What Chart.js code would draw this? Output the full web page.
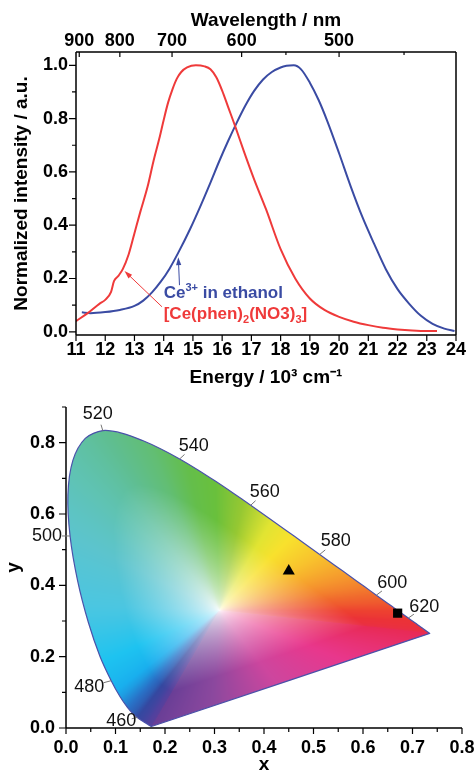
<!DOCTYPE html>
<html>
<head>
<meta charset="utf-8">
<script src="https://cdn.jsdelivr.net/npm/chart.js@4.4.1/dist/chart.umd.min.js"></script>
<style>
  html, body { margin: 0; padding: 0; background: #fff; overflow: hidden; }
  canvas { display: block; }
</style>
</head>
<body>
<canvas id="spectra" width="476" height="392"></canvas>
<canvas id="cie" width="476" height="380"></canvas>
<script>
// ---------- top panel: emission spectra ----------
const redEnergy = [11.0, 11.4, 11.8, 12.0, 12.2, 12.3, 12.45, 12.6, 12.8, 13.0, 13.2, 13.45, 13.65, 13.85, 14.0, 14.15, 14.3, 14.45, 14.6, 14.8, 15.1, 15.4, 15.6, 15.8, 16.0, 16.2, 16.45, 16.75, 17.1, 17.5, 18.0, 18.5, 19.0, 19.5, 20.0, 20.5, 21.0, 21.5, 22.0, 22.5, 23.0, 23.35];
const redIntensity = [0.04, 0.07, 0.105, 0.12, 0.15, 0.19, 0.21, 0.235, 0.29, 0.37, 0.45, 0.545, 0.64, 0.725, 0.795, 0.86, 0.91, 0.95, 0.975, 0.992, 1.0, 0.996, 0.985, 0.955, 0.905, 0.845, 0.77, 0.675, 0.57, 0.46, 0.31, 0.2, 0.125, 0.082, 0.056, 0.038, 0.025, 0.015, 0.009, 0.005, 0.003, 0.003];
const blueEnergy = [11.2, 11.5, 12.0, 12.5, 13.0, 13.3, 13.6, 13.9, 14.2, 14.5, 14.9, 15.25, 15.6, 15.9, 16.2, 16.5, 16.8, 17.1, 17.4, 17.7, 18.0, 18.2, 18.45, 18.7, 19.0, 19.3, 19.6, 20.0, 20.4, 20.8, 21.2, 21.6, 22.0, 22.4, 22.8, 23.2, 23.6, 23.95];
const blueIntensity = [0.073, 0.07, 0.074, 0.082, 0.097, 0.117, 0.148, 0.188, 0.237, 0.297, 0.385, 0.47, 0.56, 0.64, 0.715, 0.785, 0.85, 0.905, 0.947, 0.975, 0.992, 0.998, 1.0, 0.985, 0.935, 0.87, 0.79, 0.67, 0.545, 0.43, 0.33, 0.235, 0.16, 0.105, 0.06, 0.03, 0.012, 0.003];
const energyTicks = [11, 12, 13, 14, 15, 16, 17, 18, 19, 20, 21, 22, 23, 24];
const intensityTicks = [0, 0.2, 0.4, 0.6, 0.8, 1.0];
const intensityMinor = [0.1, 0.3, 0.5, 0.7, 0.9];
const wavelengthTicks = [900, 800, 700, 600, 500];
const wavelengthMinor = [550, 450];

// ---------- bottom panel: CIE 1931 chromaticity ----------
const locusNm = [380, 385, 390, 395, 400, 405, 410, 415, 420, 425, 430, 435, 440, 445, 450, 455, 460, 465, 470, 475, 480, 485, 490, 495, 500, 505, 510, 515, 520, 525, 530, 535, 540, 545, 550, 555, 560, 565, 570, 575, 580, 585, 590, 595, 600, 605, 610, 615, 620, 625, 630, 635, 640, 645, 650, 660, 670, 680, 700];
const locusX = [0.1741, 0.1740, 0.1738, 0.1736, 0.1733, 0.1730, 0.1726, 0.1721, 0.1714, 0.1703, 0.1689, 0.1669, 0.1644, 0.1611, 0.1566, 0.1510, 0.1440, 0.1355, 0.1241, 0.1096, 0.0913, 0.0687, 0.0454, 0.0235, 0.0082, 0.0039, 0.0139, 0.0389, 0.0743, 0.1142, 0.1547, 0.1929, 0.2296, 0.2658, 0.3016, 0.3373, 0.3731, 0.4087, 0.4441, 0.4788, 0.5125, 0.5448, 0.5752, 0.6029, 0.6270, 0.6482, 0.6658, 0.6801, 0.6915, 0.7006, 0.7079, 0.7140, 0.7190, 0.7230, 0.7260, 0.7300, 0.7320, 0.7334, 0.7347];
const locusY = [0.0050, 0.0050, 0.0049, 0.0049, 0.0048, 0.0048, 0.0048, 0.0048, 0.0051, 0.0058, 0.0069, 0.0086, 0.0109, 0.0138, 0.0177, 0.0227, 0.0297, 0.0399, 0.0578, 0.0868, 0.1327, 0.2007, 0.2950, 0.4127, 0.5384, 0.6548, 0.7502, 0.8120, 0.8338, 0.8262, 0.8059, 0.7816, 0.7543, 0.7243, 0.6923, 0.6589, 0.6245, 0.5896, 0.5547, 0.5202, 0.4866, 0.4544, 0.4242, 0.3965, 0.3725, 0.3514, 0.3340, 0.3197, 0.3083, 0.2993, 0.2920, 0.2859, 0.2809, 0.2770, 0.2740, 0.2700, 0.2680, 0.2666, 0.2653];
const labelNm = [460, 480, 500, 520, 540, 560, 580, 600, 620];
const sampleTriangle = [0.45, 0.44];
const sampleSquare = [0.67, 0.322];
const cieXTicks = [0, 0.1, 0.2, 0.3, 0.4, 0.5, 0.6, 0.7, 0.8];
const cieXMinor = [0.05, 0.15, 0.25, 0.35, 0.45, 0.55, 0.65, 0.75];
const cieYTicks = [0, 0.2, 0.4, 0.6, 0.8];
const cieYMinor = [0.1, 0.3, 0.5, 0.7, 0.9];

// ---------- styles ----------
const FONT = '"Liberation Sans", Arial, Helvetica, sans-serif';
const RED = '#ef3a3a';
const BLUE = '#3a4ba3';
const whitePoint = [0.31, 0.33];
// label offsets (px) from the locus point
const labelOffsets = { 460: [-16, 4], 480: [-22, 6], 500: [-23, 0], 520: [-5, -17], 540: [14, -13], 560: [14, -13], 580: [16, -13], 600: [16, -12], 620: [16, -11] };
// rim colours along the locus (nm, r, g, b) and along the purple line (0 = red end)
const edgeColours = [
  [380, 105, 62, 150], [440, 80, 65, 158], [460, 52, 72, 160], [470, 40, 115, 200],
  [477, 25, 175, 238], [484, 30, 195, 240], [492, 75, 198, 225], [500, 92, 196, 205],
  [508, 95, 195, 180], [520, 95, 190, 145], [532, 98, 190, 115], [542, 100, 190, 75],
  [550, 105, 192, 60], [558, 150, 200, 50], [566, 225, 228, 50], [572, 248, 225, 45],
  [580, 248, 195, 45], [590, 245, 150, 45], [600, 240, 105, 45], [612, 237, 65, 48],
  [625, 235, 50, 55], [700, 232, 42, 85]
];
const purpleColours = [[0, 232, 42, 85], [0.3, 232, 55, 140], [0.55, 205, 70, 158], [0.78, 140, 72, 158], [1, 105, 62, 150]];

function lerpTable(table, v) {
  if (v <= table[0][0]) return table[0].slice(1);
  for (let i = 1; i < table.length; i++) {
    if (v <= table[i][0]) {
      const a = table[i - 1], b = table[i];
      const f = (v - a[0]) / (b[0] - a[0]);
      return [1, 2, 3].map(k => a[k] + (b[k] - a[k]) * f);
    }
  }
  return table[table.length - 1].slice(1);
}

// axis lines + major/minor tick marks
function axisDecor(spec) {
  return {
    id: 'axisDecor',
    afterDraw(chart) {
      const { ctx, chartArea: a } = chart;
      ctx.save();
      ctx.strokeStyle = '#000';
      ctx.lineWidth = 1.5;
      ctx.beginPath();
      spec.sides.forEach(side => {
        if (side === 'left') { ctx.moveTo(a.left, a.bottom); ctx.lineTo(a.left, a.top); }
        if (side === 'right') { ctx.moveTo(a.right, a.bottom); ctx.lineTo(a.right, a.top); }
        if (side === 'top') { ctx.moveTo(a.left, a.top); ctx.lineTo(a.right, a.top); }
        if (side === 'bottom') { ctx.moveTo(a.left, a.bottom); ctx.lineTo(a.right, a.bottom); }
      });
      ctx.stroke();
      ctx.lineWidth = 1.2;
      ctx.beginPath();
      spec.ticks.forEach(t => {
        const s = chart.scales[t.scale];
        const out = (t.side === 'top' || t.side === 'left') ? -1 : 1;
        const dir = t.inward ? -out : out;
        const base = a[t.side];
        const mark = (v, len) => {
          const p = s.getPixelForValue(v);
          if (t.side === 'top' || t.side === 'bottom') { ctx.moveTo(p, base); ctx.lineTo(p, base + dir * len); }
          else { ctx.moveTo(base, p); ctx.lineTo(base + dir * len, p); }
        };
        t.major.forEach(v => mark(v, t.len[0]));
        t.minor.forEach(v => mark(v, t.len[1]));
      });
      ctx.stroke();
      ctx.restore();
    }
  };
}

function drawRich(ctx, parts, x, y, size, colour) {
  let cx = x;
  ctx.fillStyle = colour;
  ctx.textAlign = 'left';
  ctx.textBaseline = 'alphabetic';
  parts.forEach(([txt, kind]) => {
    const fs = kind ? Math.round(size * 0.65) : size;
    ctx.font = `bold ${fs}px ${FONT}`;
    const dy = kind === 'sup' ? -size * 0.42 : kind === 'sub' ? size * 0.25 : 0;
    ctx.fillText(txt, cx, y + dy);
    cx += ctx.measureText(txt).width;
  });
}

function arrow(ctx, x1, y1, x2, y2, colour) {
  const ang = Math.atan2(y2 - y1, x2 - x1);
  ctx.strokeStyle = colour;
  ctx.fillStyle = colour;
  ctx.lineWidth = 1;
  ctx.beginPath();
  ctx.moveTo(x1, y1);
  ctx.lineTo(x2 - 5 * Math.cos(ang), y2 - 5 * Math.sin(ang));
  ctx.stroke();
  ctx.beginPath();
  ctx.moveTo(x2, y2);
  ctx.lineTo(x2 - 8 * Math.cos(ang) + 2.6 * Math.sin(ang), y2 - 8 * Math.sin(ang) - 2.6 * Math.cos(ang));
  ctx.lineTo(x2 - 8 * Math.cos(ang) - 2.6 * Math.sin(ang), y2 - 8 * Math.sin(ang) + 2.6 * Math.cos(ang));
  ctx.closePath();
  ctx.fill();
}

// annotation anchors in data units: text baseline start, arrow tail, arrow tip
const spectraNotes = [
  { parts: [['Ce'], ['3+', 'sup'], [' in ethanol']], colour: BLUE, at: [14.0, 0.126], from: [14.54, 0.175], to: [14.5, 0.28] },
  { parts: [['[Ce(phen)'], ['2', 'sub'], ['(NO3)'], ['3', 'sub'], [']']], colour: RED, at: [14.0, 0.048], from: [13.94, 0.094], to: [12.66, 0.228] }
];

const spectraNotesPlugin = {
  id: 'spectraNotes',
  afterDatasetsDraw(chart) {
    const { ctx, scales: { x, y } } = chart;
    ctx.save();
    spectraNotes.forEach(n => {
      arrow(ctx, x.getPixelForValue(n.from[0]), y.getPixelForValue(n.from[1]),
        x.getPixelForValue(n.to[0]), y.getPixelForValue(n.to[1]), n.colour);
      drawRich(ctx, n.parts, x.getPixelForValue(n.at[0]), y.getPixelForValue(n.at[1]), 17, n.colour);
    });
    ctx.restore();
  }
};

const tickFont = { family: FONT, size: 18, weight: 'bold' };
const titleFont = { family: FONT, size: 19, weight: 'bold' };

new Chart(document.getElementById('spectra'), {
  type: 'scatter',
  data: {
    datasets: [
      {
        label: '[Ce(phen)2(NO3)3]',
        data: redEnergy.map((e, i) => ({ x: e, y: redIntensity[i] })),
        borderColor: RED, borderWidth: 2, showLine: true, pointRadius: 0,
        cubicInterpolationMode: 'monotone'
      },
      {
        label: 'Ce3+ in ethanol',
        data: blueEnergy.map((e, i) => ({ x: e, y: blueIntensity[i] })),
        borderColor: BLUE, borderWidth: 2, showLine: true, pointRadius: 0,
        cubicInterpolationMode: 'monotone'
      }
    ]
  },
  options: {
    responsive: false,
    animation: false,
    events: [],
    layout: { padding: { left: 0, right: 20, top: 0, bottom: 0 } },
    plugins: { legend: { display: false }, tooltip: { enabled: false } },
    scales: {
      x: {
        type: 'linear', position: 'bottom', min: 11, max: 24,
        afterBuildTicks: s => { s.ticks = energyTicks.map(v => ({ value: v })); },
        afterFit: s => { s.height = 57; s.paddingLeft = 0; s.paddingRight = 0; },
        grid: { display: false, drawTicks: false }, border: { display: false },
        ticks: { color: '#000', font: tickFont, padding: 4, autoSkip: false, maxRotation: 0 },
        title: { display: true, text: 'Energy / 10³ cm⁻¹', color: '#000', font: titleFont, padding: { top: 0, bottom: 3 } }
      },
      x2: {
        type: 'linear', position: 'top', min: 11, max: 24,
        afterBuildTicks: s => { s.ticks = wavelengthTicks.map(w => ({ value: 1e4 / w })); },
        afterFit: s => { s.height = 52; s.paddingLeft = 0; s.paddingRight = 0; },
        grid: { display: false, drawTicks: false }, border: { display: false },
        ticks: { color: '#000', font: tickFont, padding: 0, autoSkip: false, maxRotation: 0, callback: v => String(Math.round(1e4 / v)) },
        title: { display: true, text: 'Wavelength / nm', color: '#000', font: titleFont, padding: { top: 9, bottom: 0 } }
      },
      y: {
        type: 'linear', min: -0.012, max: 1.05,
        afterBuildTicks: s => { s.ticks = intensityTicks.map(v => ({ value: v })); },
        afterFit: s => { s.width = 76; s.paddingTop = 0; s.paddingBottom = 0; },
        grid: { display: false, drawTicks: false }, border: { display: false },
        ticks: { color: '#000', font: tickFont, padding: 8, callback: v => v.toFixed(1) },
        title: { display: true, text: 'Normalized intensity / a.u.', color: '#000', font: titleFont, padding: { top: 10, bottom: 0 } }
      }
    }
  },
  plugins: [
    axisDecor({
      sides: ['left', 'right', 'top', 'bottom'],
      ticks: [
        { scale: 'x', side: 'bottom', inward: false, major: energyTicks, minor: [], len: [6, 3] },
        { scale: 'x2', side: 'top', inward: true, major: wavelengthTicks.map(w => 1e4 / w), minor: wavelengthMinor.map(w => 1e4 / w), len: [5, 3] },
        { scale: 'y', side: 'left', inward: false, major: intensityTicks, minor: intensityMinor, len: [7, 4] }
      ]
    }),
    spectraNotesPlugin
  ]
});

// ---------- CIE colour fill, computed per pixel through the chart scales ----------
let ciePattern = null;
function cieFill(context) {
  const chart = context.chart;
  const area = chart.chartArea;
  const sx = chart.scales.x, sy = chart.scales.y;
  if (!area || !sx || !sy || area.right - area.left < 10) return 'rgba(0,0,0,0)';
  if (ciePattern) return ciePattern;
  const pts = locusX.map((x, i) => ({ x: sx.getPixelForValue(x), y: sy.getPixelForValue(locusY[i]), nm: locusNm[i] }));
  const wp = { x: sx.getPixelForValue(whitePoint[0]), y: sy.getPixelForValue(whitePoint[1]) };
  const BINS = 2880;
  const radius = new Float32Array(BINS);
  const rim = [];
  const n = pts.length;
  for (let b = 0; b < BINS; b++) {
    const th = (b + 0.5) / BINS * 2 * Math.PI - Math.PI;
    const dx = Math.cos(th), dy = Math.sin(th);
    let best = Infinity, col = [255, 255, 255];
    for (let i = 0; i < n; i++) {
      const a = pts[i], c = pts[(i + 1) % n];
      const ex = c.x - a.x, ey = c.y - a.y;
      const den = dx * ey - dy * ex;
      if (Math.abs(den) < 1e-9) continue;
      const ax = a.x - wp.x, ay = a.y - wp.y;
      const t = (ax * ey - ay * ex) / den;
      const u = (ax * dy - ay * dx) / den;
      if (t > 0 && u >= 0 && u <= 1 && t < best) {
        best = t;
        col = i === n - 1 ? lerpTable(purpleColours, u) : lerpTable(edgeColours, a.nm + u * (c.nm - a.nm));
      }
    }
    radius[b] = best;
    rim[b] = col;
  }
  const off = document.createElement('canvas');
  off.width = chart.width;
  off.height = chart.height;
  const octx = off.getContext('2d');
  const L = Math.floor(area.left), T = Math.floor(area.top);
  const W = Math.ceil(area.right) - L, H = Math.ceil(area.bottom) - T;
  const img = octx.createImageData(W, H);
  for (let j = 0; j < H; j++) {
    for (let i = 0; i < W; i++) {
      const dx = L + i + 0.5 - wp.x, dy = T + j + 0.5 - wp.y;
      let b = Math.floor((Math.atan2(dy, dx) + Math.PI) / (2 * Math.PI) * BINS);
      if (b >= BINS) b = BINS - 1;
      const k = Math.hypot(dx, dy) / radius[b];
      const t = Math.pow(Math.min(1, k / 0.7), 0.6);
      const c = rim[b];
      const o = (j * W + i) * 4;
      img.data[o] = 255 + (c[0] - 255) * t;
      img.data[o + 1] = 255 + (c[1] - 255) * t;
      img.data[o + 2] = 255 + (c[2] - 255) * t;
      img.data[o + 3] = 255;
    }
  }
  octx.putImageData(img, L, T);
  ciePattern = chart.ctx.createPattern(off, 'no-repeat');
  return ciePattern;
}

const locusLabels = {
  id: 'locusLabels',
  afterDraw(chart) {
    const { ctx, scales: { x, y } } = chart;
    ctx.save();
    ctx.font = `18px ${FONT}`;
    ctx.textAlign = 'center';
    ctx.textBaseline = 'middle';
    labelNm.forEach(nm => {
      const i = locusNm.indexOf(nm);
      const px = x.getPixelForValue(locusX[i]), py = y.getPixelForValue(locusY[i]);
      const [ox, oy] = labelOffsets[nm];
      ctx.strokeStyle = '#777';
      ctx.lineWidth = 1;
      ctx.beginPath();
      ctx.moveTo(px, py);
      ctx.lineTo(px + ox * 0.35, py + oy * 0.35);
      ctx.stroke();
      ctx.fillStyle = '#111';
      ctx.fillText(String(nm), px + ox, py + oy);
    });
    ctx.restore();
  }
};

const locusPoints = locusX.map((x, i) => ({ x, y: locusY[i] }));
locusPoints.push({ x: locusX[0], y: locusY[0] });

new Chart(document.getElementById('cie'), {
  type: 'scatter',
  data: {
    datasets: [
      {
        label: 'sample (triangle)',
        data: [{ x: sampleTriangle[0], y: sampleTriangle[1] }],
        pointStyle: 'triangle', pointRadius: 7, backgroundColor: '#000', borderColor: '#000', borderWidth: 0, order: 0
      },
      {
        label: 'sample (square)',
        data: [{ x: sampleSquare[0], y: sampleSquare[1] }],
        pointStyle: 'rect', pointRadius: 6.5, backgroundColor: '#000', borderColor: '#000', borderWidth: 0, order: 0
      },
      {
        label: 'CIE 1931 spectral locus',
        data: locusPoints,
        showLine: true, fill: 'shape', backgroundColor: cieFill,
        borderColor: '#4a52aa', borderWidth: 1.2, pointRadius: 0, tension: 0.3, order: 2
      }
    ]
  },
  options: {
    responsive: false,
    animation: false,
    events: [],
    layout: { padding: { left: 0, right: 14, top: 15, bottom: 0 } },
    plugins: { legend: { display: false }, tooltip: { enabled: false } },
    scales: {
      x: {
        type: 'linear', min: 0, max: 0.8,
        afterBuildTicks: s => { s.ticks = cieXTicks.map(v => ({ value: v })); },
        afterFit: s => { s.height = 44; s.paddingLeft = 0; s.paddingRight = 0; },
        grid: { display: false, drawTicks: false }, border: { display: false },
        ticks: { color: '#000', font: tickFont, padding: 9, autoSkip: false, maxRotation: 0, callback: v => v.toFixed(1) },
        title: { display: true, text: 'x', color: '#000', font: titleFont, padding: { top: 0, bottom: -4 } }
      },
      y: {
        type: 'linear', min: 0, max: 0.9,
        afterBuildTicks: s => { s.ticks = cieYTicks.map(v => ({ value: v })); },
        afterFit: s => { s.width = 66; s.paddingTop = 0; s.paddingBottom = 0; },
        grid: { display: false, drawTicks: false }, border: { display: false },
        ticks: { color: '#000', font: tickFont, padding: 11, callback: v => v.toFixed(1) },
        title: { display: true, text: 'y', color: '#000', font: titleFont, padding: { top: 2, bottom: 0 } }
      }
    }
  },
  plugins: [
    axisDecor({
      sides: ['left', 'bottom'],
      ticks: [
        { scale: 'x', side: 'bottom', inward: false, major: cieXTicks, minor: cieXMinor, len: [6, 4] },
        { scale: 'y', side: 'left', inward: false, major: cieYTicks, minor: cieYMinor, len: [7, 4] }
      ]
    }),
    locusLabels
  ]
});
</script>
</body>
</html>
